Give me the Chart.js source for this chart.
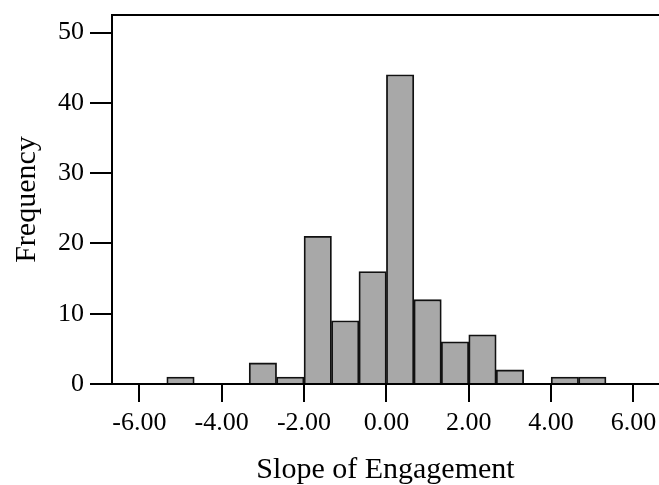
<!DOCTYPE html>
<html>
<head>
<meta charset="utf-8">
<script src="https://cdn.jsdelivr.net/npm/chart.js@4.4.1/dist/chart.umd.min.js"></script>
<style>
  html, body { margin: 0; padding: 0; background: #fff; }
  #wrap { width: 659px; height: 485px; }
</style>
</head>
<body>
<div id="wrap"><canvas id="histChart"></canvas></div>
<script>
// Histogram bins (left edge of each bin) and counts
const binStarts = [-5.333, -4.667, -4.0, -3.333, -2.667, -2.0, -1.333, -0.667, 0.0, 0.667, 1.333, 2.0, 2.667, 3.333, 4.0, 4.667];
const binWidth = 0.667;
const counts = [1, 0, 0, 3, 1, 21, 9, 16, 44, 12, 6, 7, 2, 0, 1, 1];

const xTicks = [-6, -4, -2, 0, 2, 4, 6];
const yTicks = [0, 10, 20, 30, 40, 50];

const serif = 'Liberation Serif';

// top frame line of the plot
const topLine = {
  id: 'topLine',
  afterDraw(chart) {
    const { ctx, chartArea } = chart;
    ctx.save();
    ctx.strokeStyle = '#000';
    ctx.lineWidth = 2;
    ctx.beginPath();
    ctx.moveTo(chartArea.left, chartArea.top);
    ctx.lineTo(chartArea.right, chartArea.top);
    ctx.stroke();
    ctx.restore();
  }
};

const points = binStarts.map((s, i) => ({ x: s + binWidth / 2, y: counts[i] }));

new Chart(document.getElementById('histChart'), {
  type: 'bar',
  data: {
    datasets: [{
      data: points,
      backgroundColor: '#a8a8a8',
      borderColor: '#111',
      borderWidth: 1.8,
      borderSkipped: 'start',
      barPercentage: 1,
      categoryPercentage: 1
    }]
  },
  options: {
    responsive: true,
    maintainAspectRatio: false,
    animation: false,
    devicePixelRatio: 1,
    layout: { padding: { top: 15, right: 0, left: 0, bottom: 0 } },
    plugins: {
      legend: { display: false },
      tooltip: { enabled: false }
    },
    scales: {
      x: {
        type: 'linear',
        min: -6.663,
        max: 6.62,
        offset: false,
        afterBuildTicks: (scale) => { scale.ticks = xTicks.map(v => ({ value: v })); },
        afterFit: (scale) => {
          scale.height = 101;
          scale.paddingLeft = 0;
          scale.paddingRight = 0;
        },
        ticks: {
          color: '#000',
          font: { family: serif, size: 26 },
          padding: 6,
          maxRotation: 0,
          callback: (v) => Number(v).toFixed(2)
        },
        grid: { offset: false, drawOnChartArea: false, drawTicks: true, tickLength: 18, color: '#000', lineWidth: 2 },
        border: { display: true, color: '#000', width: 2 },
        title: {
          display: true,
          text: 'Slope of Engagement',
          color: '#000',
          font: { family: serif, size: 30, lineHeight: 1 },
          padding: { top: 0, bottom: 0 }
        }
      },
      y: {
        min: 0,
        max: 52.5,
        afterBuildTicks: (scale) => { scale.ticks = yTicks.map(v => ({ value: v })); },
        afterFit: (scale) => {
          scale.width = 112;
          scale.paddingTop = 0;
          scale.paddingBottom = 0;
        },
        ticks: {
          color: '#000',
          font: { family: serif, size: 26 },
          padding: 6
        },
        grid: { drawOnChartArea: false, drawTicks: true, tickLength: 22, color: '#000', lineWidth: 2 },
        border: { display: true, color: '#000', width: 2 },
        title: {
          display: true,
          text: 'Frequency',
          color: '#000',
          font: { family: serif, size: 30, lineHeight: 1.2 },
          padding: { top: 9, bottom: 0 }
        }
      }
    }
  },
  plugins: [topLine]
});
</script>
</body>
</html>
